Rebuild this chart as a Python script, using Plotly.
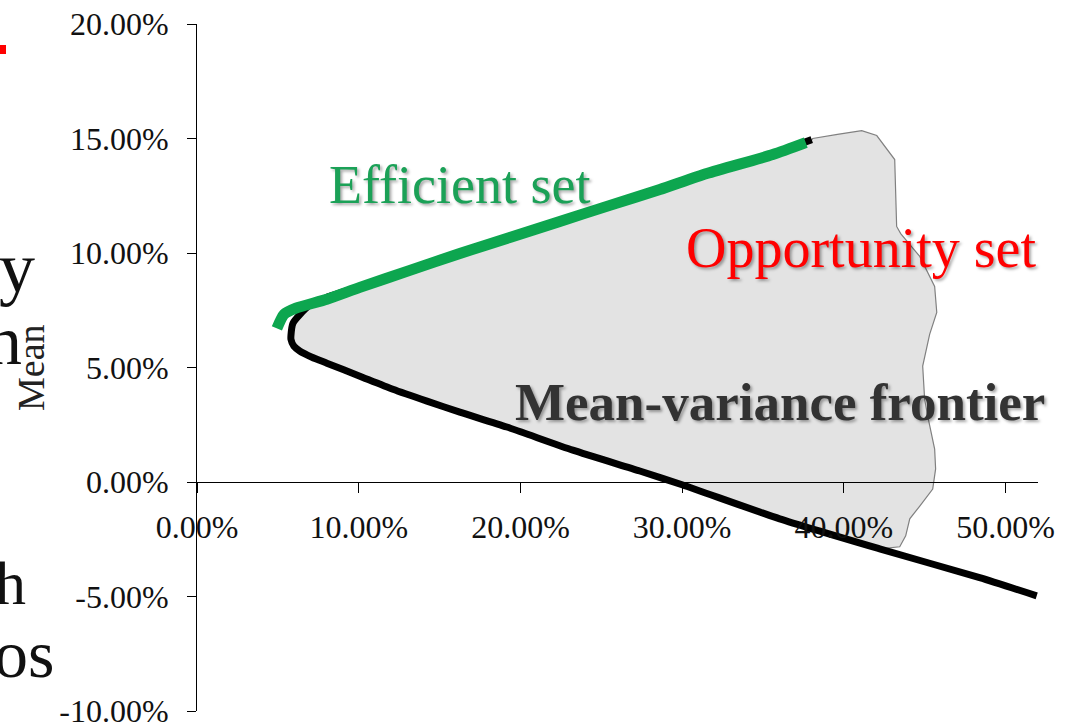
import plotly.graph_objects as go

# ---- data (standard deviation %, mean %) ----
# mean-variance frontier, from the lower-right end round the vertex to the upper end
frontier_sd = [51.92, 48.39, 42.21, 36.03, 30.04, 27.38, 23.24, 19.16, 16.25, 14.22,
               12.11, 10.07, 8.03, 7.11, 6.37, 5.99, 5.81,
               5.81, 5.93, 6.37, 6.98, 8.03, 10.07, 13.16, 16.25, 19.34, 22.43,
               25.53, 28.62, 31.52, 35.60, 38.01]
frontier_mean = [-4.97, -4.18, -2.92, -1.61, -0.13, 0.48, 1.39, 2.40, 3.05, 3.53,
                 4.05, 4.62, 5.19, 5.45, 5.71, 5.93, 6.23,
                 6.41, 6.93, 7.32, 7.72, 8.06, 8.54, 9.29, 10.03, 10.68, 11.42,
                 12.12, 12.77, 13.47, 14.34, 14.95]

# efficient set (green hand-drawn stroke)
efficient_sd = [4.94, 5.38, 6.12, 8.03, 10.07, 13.16, 16.25, 19.34, 22.43, 25.53,
                28.62, 31.52, 35.60, 37.64]
efficient_mean = [6.71, 7.32, 7.59, 7.98, 8.50, 9.24, 9.98, 10.68, 11.38, 12.08,
                  12.77, 13.47, 14.30, 14.82]

# right-hand edge of the opportunity set (from the top of the frontier downwards)
opp_edge_sd = [38.07, 39.60, 41.10, 42.03, 43.14, 43.26, 43.51, 44.69, 45.61, 45.74,
               45.30, 44.87, 44.99, 45.18, 45.61, 45.67, 45.49, 44.69, 44.07, 43.82, 43.45]
opp_edge_mean = [15.00, 15.18, 15.34, 15.13, 14.08, 11.16, 10.85, 9.85, 8.54, 7.41,
                 6.45, 5.06, 3.62, 2.88, 1.44, 0.57, -0.31, -1.05, -1.61, -2.35, -2.83]

x_tickvals = [0, 10, 20, 30, 40, 50]
x_ticktext = ["0.00%", "10.00%", "20.00%", "30.00%", "40.00%", "50.00%"]
y_tickvals = [-10, -5, 0, 5, 10, 15, 20]
y_ticktext = ["-10.00%", "-5.00%", "0.00%", "5.00%", "10.00%", "15.00%", "20.00%"]

# ---- figure geometry ----
W, H = 1073, 723
ML, MR, MT, MB = 197, 35, 24, 12
PW, PH = W - ML - MR, H - MT - MB


def px_x(px):
    return (px - ML) / PW


def px_y(py):
    return (H - MB - py) / PH


# opportunity-set polygon: upper frontier part, right edge, lower frontier part back
vertex = 16  # index of the leftmost frontier point
upper_sd = frontier_sd[vertex:]
upper_mean = frontier_mean[vertex:]
lower_sd = [s for s in frontier_sd[:vertex + 1] if s < opp_edge_sd[-1]]
lower_mean = [m for s, m in zip(frontier_sd[:vertex + 1], frontier_mean[:vertex + 1])
              if s < opp_edge_sd[-1]]
poly_sd = upper_sd + opp_edge_sd + lower_sd
poly_mean = upper_mean + opp_edge_mean + lower_mean

fig = go.Figure()

fig.add_trace(go.Scatter(
    x=poly_sd, y=poly_mean, mode="lines", fill="toself",
    fillcolor="#E3E3E3", line=dict(color="#808080", width=1.2),
    hoverinfo="skip", showlegend=False))

fig.add_trace(go.Scatter(
    x=frontier_sd, y=frontier_mean, mode="lines",
    line=dict(color="#000000", width=7, shape="spline", smoothing=0.6),
    showlegend=False))

fig.add_trace(go.Scatter(
    x=efficient_sd, y=efficient_mean, mode="lines",
    line=dict(color="#0DA64F", width=11, shape="spline", smoothing=0.6),
    showlegend=False))

serif = "Liberation Serif"
shadow = "2px 2px 3px rgba(0,0,0,0.35)"

annotations = [
    dict(x=16.25, y=12.99, xref="x", yref="y", text="Efficient set", showarrow=False,
         xanchor="center", yanchor="middle",
         font=dict(family=serif, size=54, color="#1BA157", shadow=shadow)),
    dict(x=41.04, y=10.24, xref="x", yref="y", text="Opportunity set", showarrow=False,
         xanchor="center", yanchor="middle",
         font=dict(family=serif, size=56, color="#FF0000", shadow=shadow)),
    dict(x=36.03, y=3.49, xref="x", yref="y", text="<b>Mean-variance frontier</b>",
         showarrow=False, xanchor="center", yanchor="middle",
         font=dict(family=serif, size=53, color="#333333", shadow=shadow)),
    dict(x=px_x(31), y=px_y(368), xref="paper", yref="paper", text="Mean", textangle=-90,
         xanchor="center", yanchor="middle",
         showarrow=False, font=dict(family=serif, size=38, color="#222222")),
]

# fragments of slide text cut off at the left edge
for txt, right_px, mid_px, size in [("y", 37, 268, 72), ("n", 24, 340, 70),
                                     ("h", 28, 583, 62), ("os", 56, 654, 68)]:
    annotations.append(dict(x=px_x(right_px), y=px_y(mid_px), xref="paper", yref="paper",
                            xanchor="right", yanchor="middle", text=txt, showarrow=False,
                            font=dict(family=serif, size=size, color="#111111")))

fig.update_layout(
    width=W, height=H,
    margin=dict(l=ML, r=MR, t=MT, b=MB, pad=0, autoexpand=False),
    paper_bgcolor="white", plot_bgcolor="white",
    showlegend=False,
    annotations=annotations,
    shapes=[dict(type="rect", xref="paper", yref="paper",
                 x0=px_x(-2), x1=px_x(6), y0=px_y(54), y1=px_y(45),
                 fillcolor="#FF0000", line=dict(width=0))],
    xaxis=dict(range=[0, 52], anchor="free", position=1 / 3, automargin=False,
               tickvals=x_tickvals, ticktext=x_ticktext,
               showgrid=False, zeroline=False, showline=True, linecolor="black", linewidth=1,
               ticks="outside", ticklen=10, tickcolor="black", tickwidth=1,
               ticklabelstandoff=7, ticklabeloverflow="allow",
               tickfont=dict(family=serif, size=32, color="#111111")),
    yaxis=dict(range=[-10, 20], tickvals=y_tickvals, ticktext=y_ticktext, automargin=False,
               showgrid=False, zeroline=False, showline=True, linecolor="black", linewidth=1,
               ticks="outside", ticklen=9, tickcolor="black", tickwidth=1,
               ticklabelstandoff=12, ticklabeloverflow="allow",
               tickfont=dict(family=serif, size=32, color="#111111")),
)

fig.write_html("out.html", config={"displayModeBar": False},
               post_script="document.body.style.margin='0';")
